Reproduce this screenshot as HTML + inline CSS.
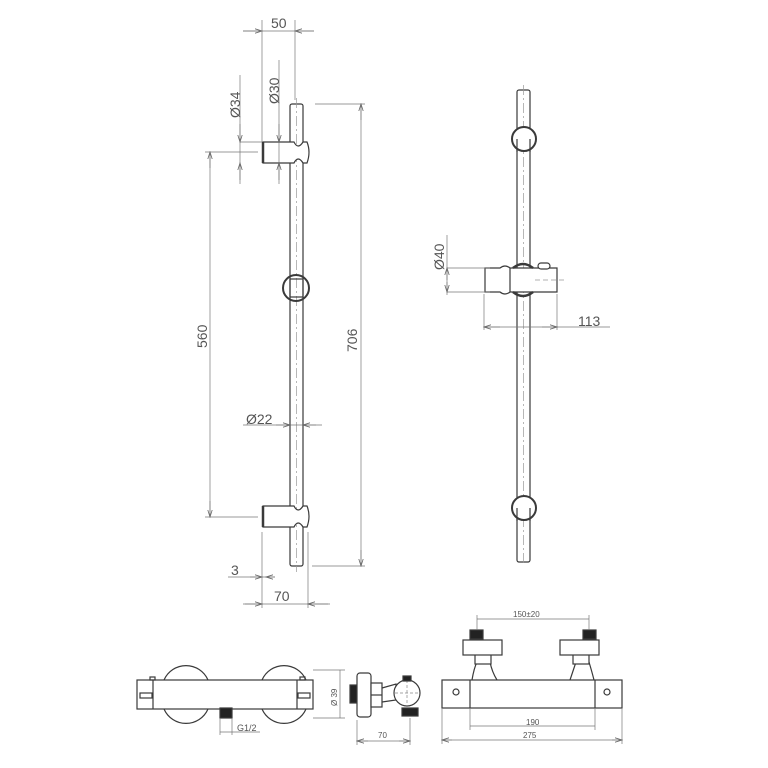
<!DOCTYPE html>
<html><head><meta charset="utf-8"><style>
html,body{margin:0;padding:0;background:#fff;width:768px;height:768px;overflow:hidden}
svg text{font-family:"Liberation Sans",sans-serif;fill:#555}
</style></head><body>
<svg width="768" height="768" viewBox="0 0 768 768" xmlns="http://www.w3.org/2000/svg">
<defs>
<marker id="a" markerWidth="8" markerHeight="6" refX="7" refY="3" orient="auto" markerUnits="userSpaceOnUse"><path d="M0,0.8 L7,3 L0,5.2" fill="none" stroke="#666" stroke-width="0.8"/></marker>
</defs>
<g fill="none" stroke="#3a3a3a" stroke-width="1.2">
<rect x="290" y="104" width="13" height="462" rx="2" fill="#fff"/>
<line x1="296.5" y1="98" x2="296.5" y2="572" stroke="#999" stroke-width="0.7" stroke-dasharray="10,3,2,3"/>
<path d="M263,142 L294,142 Q298,150 303,142 L307,142 Q311,152 307,163 L303,163 Q298,155 294,163 L263,163 Z" fill="#fff"/>
<line x1="263" y1="142" x2="263" y2="163" stroke-width="2.5"/>
<path d="M263,506 L294,506 Q298,514 303,506 L307,506 Q311,516 307,527 L303,527 Q298,519 294,527 L263,527 Z" fill="#fff"/>
<line x1="263" y1="506" x2="263" y2="527" stroke-width="2.5"/>
<circle cx="296" cy="288" r="13" stroke-width="2"/>
<rect x="290" y="279" width="13" height="18"/>
<rect x="517" y="90" width="13" height="472" rx="2" fill="#fff"/>
<line x1="523.5" y1="85" x2="523.5" y2="566" stroke="#999" stroke-width="0.7" stroke-dasharray="10,3,2,3"/>
<circle cx="524" cy="139" r="12" stroke-width="2" fill="#fff"/>
<line x1="517" y1="139" x2="517" y2="152"/><line x1="530" y1="139" x2="530" y2="152"/>
<circle cx="524" cy="508" r="12" stroke-width="2" fill="#fff"/>
<line x1="517" y1="508" x2="517" y2="521"/><line x1="530" y1="508" x2="530" y2="521"/>
<path d="M485,268 L500,268 Q505,264 510,268 L557,268 L557,292 L510,292 Q505,296 500,292 L485,292 Z" fill="#fff"/>
<path d="M513,268 Q523,260 533,268 M513,292 Q523,300 533,292" stroke-width="2.5"/>
<line x1="510" y1="268" x2="510" y2="292"/>
<rect x="538" y="263" width="12" height="6" rx="3" fill="#fff"/>
<line x1="535" y1="280" x2="565" y2="280" stroke="#999" stroke-width="0.7" stroke-dasharray="5,3"/>
<!-- BOTTOM LEFT VIEW -->
<rect x="137" y="680" width="176" height="29" fill="#fff"/>
<path d="M164,680 A24,24 0 0 1 208,680 M164,709 A24,24 0 0 0 208,709"/>
<path d="M262,680 A24,24 0 0 1 306,680 M262,709 A24,24 0 0 0 306,709"/>
<line x1="153" y1="680" x2="153" y2="709"/><line x1="297" y1="680" x2="297" y2="709"/>
<rect x="140" y="693" width="12" height="5"/><rect x="298" y="693" width="12" height="5"/>
<rect x="150" y="677" width="5" height="3"/><rect x="300" y="677" width="5" height="3"/>
<rect x="220" y="708" width="12" height="10" fill="#222"/>
<!-- SIDE VIEW -->
<rect x="350" y="685" width="7" height="18" fill="#222"/>
<rect x="357" y="673" width="14" height="44" rx="3" fill="#fff"/>
<rect x="371" y="683" width="11" height="24" fill="#fff"/>
<line x1="371" y1="695" x2="382" y2="695"/>
<path d="M382,688 L396,684 L396,700 L382,702"/>
<circle cx="407" cy="693" r="13" fill="#fff"/>
<line x1="395" y1="693" x2="420" y2="693" stroke="#888" stroke-width="0.7" stroke-dasharray="3,2"/>
<line x1="407" y1="680" x2="407" y2="706" stroke="#888" stroke-width="0.7" stroke-dasharray="3,2"/>
<rect x="403" y="676" width="8" height="5" fill="#222"/>
<rect x="402" y="708" width="16" height="8" fill="#222"/>
<!-- BOTTOM RIGHT VIEW -->
<rect x="442" y="680" width="180" height="28" fill="#fff"/>
<line x1="470" y1="680" x2="470" y2="708"/><line x1="595" y1="680" x2="595" y2="708"/>
<circle cx="456" cy="692" r="3"/><circle cx="607" cy="692" r="3"/>
<path d="M472,680 Q474,668 477,662 L490,662 Q492,672 497,680"/>
<path d="M570,680 Q574,668 576,662 L589,662 Q592,672 594,680"/>
<rect x="475" y="654" width="16" height="10" fill="#fff"/><rect x="573" y="654" width="16" height="10" fill="#fff"/>
<rect x="463" y="640" width="39" height="15" fill="#fff"/><rect x="560" y="640" width="39" height="15" fill="#fff"/>
<rect x="470" y="630" width="13" height="9" fill="#222"/><rect x="583" y="630" width="13" height="9" fill="#222"/>
</g>
<g stroke="#777" stroke-width="0.7" fill="none">
<line x1="262" y1="20" x2="262" y2="142"/><line x1="295" y1="20" x2="295" y2="100"/>
<line x1="243" y1="31" x2="262" y2="31" marker-end="url(#a)"/><line x1="314" y1="31" x2="295" y2="31" marker-end="url(#a)"/>
<line x1="243" y1="31" x2="314" y2="31"/>
<line x1="240" y1="75" x2="240" y2="184"/><line x1="279" y1="60" x2="279" y2="184"/>
<line x1="240" y1="142" x2="262" y2="142"/>
<line x1="240" y1="124" x2="240" y2="142" marker-end="url(#a)"/><line x1="240" y1="180" x2="240" y2="163" marker-end="url(#a)"/>
<line x1="279" y1="124" x2="279" y2="142" marker-end="url(#a)"/><line x1="279" y1="180" x2="279" y2="163" marker-end="url(#a)"/>
<line x1="315" y1="104" x2="365" y2="104"/><line x1="312" y1="566" x2="365" y2="566"/>
<line x1="361" y1="104" x2="361" y2="566"/>
<line x1="361" y1="120" x2="361" y2="104" marker-end="url(#a)"/><line x1="361" y1="550" x2="361" y2="566" marker-end="url(#a)"/>
<line x1="205" y1="152" x2="258" y2="152"/><line x1="205" y1="517" x2="258" y2="517"/>
<line x1="210" y1="152" x2="210" y2="517"/>
<line x1="210" y1="168" x2="210" y2="152" marker-end="url(#a)"/><line x1="210" y1="501" x2="210" y2="517" marker-end="url(#a)"/>
<line x1="243" y1="425" x2="322" y2="425"/>
<line x1="276" y1="425" x2="290" y2="425" marker-end="url(#a)"/><line x1="316" y1="425" x2="303" y2="425" marker-end="url(#a)"/>
<line x1="228" y1="577" x2="275" y2="577"/>
<line x1="250" y1="577" x2="262" y2="577" marker-end="url(#a)"/><line x1="275" y1="577" x2="266" y2="577" marker-end="url(#a)"/>
<line x1="262" y1="532" x2="262" y2="608"/><line x1="308" y1="532" x2="308" y2="608"/>
<line x1="243" y1="604" x2="330" y2="604"/>
<line x1="245" y1="604" x2="262" y2="604" marker-end="url(#a)"/><line x1="328" y1="604" x2="308" y2="604" marker-end="url(#a)"/>
<line x1="447" y1="235" x2="447" y2="295"/>
<line x1="447" y1="268" x2="490" y2="268"/><line x1="447" y1="292" x2="490" y2="292"/>
<line x1="447" y1="280" x2="447" y2="268" marker-end="url(#a)"/><line x1="447" y1="282" x2="447" y2="292" marker-end="url(#a)"/>
<line x1="484" y1="294" x2="484" y2="330"/><line x1="557" y1="294" x2="557" y2="330"/>
<line x1="484" y1="327" x2="610" y2="327"/>
<line x1="500" y1="327" x2="484" y2="327" marker-end="url(#a)"/><line x1="542" y1="327" x2="557" y2="327" marker-end="url(#a)"/>
<line x1="313" y1="670" x2="345" y2="670"/><line x1="313" y1="718" x2="345" y2="718"/>
<line x1="340" y1="670" x2="340" y2="718"/>
<line x1="220" y1="718" x2="220" y2="735"/><line x1="232" y1="718" x2="232" y2="735"/>
<line x1="220" y1="732" x2="260" y2="732"/>
<line x1="357" y1="720" x2="357" y2="745"/><line x1="410" y1="718" x2="410" y2="745"/>
<line x1="357" y1="741" x2="410" y2="741"/>
<line x1="368" y1="741" x2="357" y2="741" marker-end="url(#a)"/><line x1="399" y1="741" x2="410" y2="741" marker-end="url(#a)"/>
<line x1="477" y1="615" x2="477" y2="630"/><line x1="589" y1="615" x2="589" y2="630"/>
<line x1="477" y1="619" x2="589" y2="619"/>
<line x1="470" y1="708" x2="470" y2="730"/><line x1="595" y1="708" x2="595" y2="730"/>
<line x1="470" y1="726" x2="595" y2="726"/>
<line x1="442" y1="708" x2="442" y2="744"/><line x1="622" y1="708" x2="622" y2="744"/>
<line x1="442" y1="740" x2="622" y2="740"/>
<line x1="452" y1="740" x2="442" y2="740" marker-end="url(#a)"/><line x1="612" y1="740" x2="622" y2="740" marker-end="url(#a)"/>
</g>
<text x="271" y="28" font-size="14">50</text>
<text transform="translate(240,118) rotate(-90)" font-size="14">Ø34</text>
<text transform="translate(279,104) rotate(-90)" font-size="14">Ø30</text>
<text transform="translate(357,352) rotate(-90)" font-size="14">706</text>
<text transform="translate(207,348) rotate(-90)" font-size="14">560</text>
<text x="246" y="424" font-size="14">Ø22</text>
<text x="231" y="575" font-size="14">3</text>
<text x="274" y="601" font-size="14">70</text>
<text transform="translate(444,270) rotate(-90)" font-size="14">Ø40</text>
<text x="578" y="326" font-size="14">113</text>
<text transform="translate(337,706) rotate(-90)" font-size="8">Ø 39</text>
<text x="237" y="731" font-size="9">G1/2</text>
<text x="378" y="738" font-size="8">70</text>
<text x="513" y="617" font-size="8">150±20</text>
<text x="526" y="725" font-size="8">190</text>
<text x="523" y="738" font-size="8">275</text>
</svg>
</body></html>
